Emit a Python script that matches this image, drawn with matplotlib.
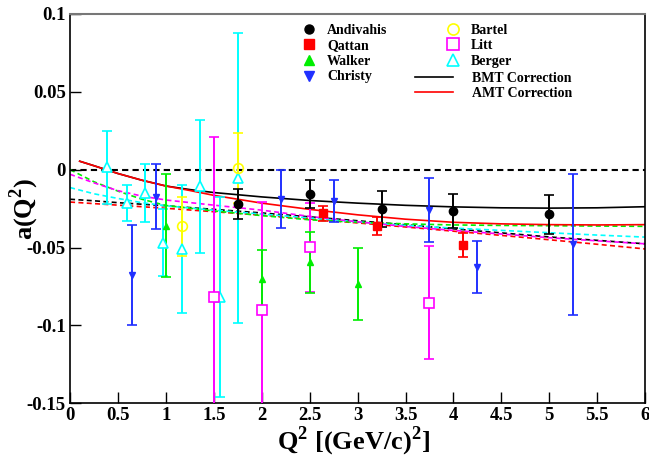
import matplotlib
matplotlib.use("Agg")
import matplotlib.pyplot as plt
from matplotlib.lines import Line2D
from matplotlib.ticker import FuncFormatter

plt.rcParams['font.family'] = ['Liberation Serif', 'DejaVu Serif']
plt.rcParams['font.weight'] = 'bold'
plt.rcParams['mathtext.fontset'] = 'custom'
plt.rcParams['mathtext.rm'] = 'Liberation Serif:bold'
plt.rcParams['mathtext.bf'] = 'Liberation Serif:bold'

# ---- data ----
andivahis_q2 = [1.75, 2.5, 3.25, 4.0, 5.0]
andivahis_a = [-0.022, -0.0158, -0.0253, -0.0266, -0.0286]
andivahis_e = [0.0095, 0.009, 0.0117, 0.011, 0.0124]

qattan_q2 = [2.64, 3.2, 4.1]
qattan_a = [-0.0281, -0.0364, -0.0483]
qattan_e = [0.0046, 0.0058, 0.0078]

walker_q2 = [1.0, 2.0, 2.5, 3.0]
walker_a = [-0.0359, -0.0703, -0.0595, -0.0732]
walker_e = [0.033, 0.019, 0.0195, 0.0232]

christy_q2 = [0.65, 0.9, 2.2, 2.75, 3.75, 4.25, 5.25]
christy_a = [-0.0675, -0.0173, -0.019, -0.0201, -0.026, -0.0623, -0.048]
christy_e = [0.032, 0.021, 0.0187, 0.0134, 0.0205, 0.0166, 0.0455]

bartel_q2 = [1.17, 1.75]
bartel_a = [-0.0364, 0.0012]
bartel_e = [0.019, 0.0225]

litt_q2 = [1.5, 2.0, 2.5, 3.75]
litt_a = [-0.0818, -0.090, -0.0498, -0.0853]
litt_e = [0.103, 0.069, 0.0287, 0.0365]

berger_q2 = [0.39, 0.59, 0.78, 0.97, 1.17, 1.36, 1.56, 1.75]
berger_a = [0.0015, -0.0216, -0.0151, -0.0468, -0.0509, -0.0108, -0.0818, -0.0056]
berger_e = [0.0235, 0.0115, 0.0185, 0.0215, 0.041, 0.0425, 0.064, 0.093]

# correction curves
curve_q2 = [0.1, 0.25, 0.5, 0.75, 1.0, 1.25, 1.5, 2.0, 2.5, 3.0, 3.5, 4.0, 4.5, 5.0, 5.5, 6.0]
bmt_a = [0.0054, 0.0025, -0.0025, -0.0068, -0.0105, -0.0128, -0.0147, -0.0175, -0.0198,
         -0.0215, -0.0229, -0.0239, -0.0245, -0.0247, -0.0245, -0.0238]
amt_a = [0.0054, 0.0025, -0.0025, -0.0068, -0.0105, -0.0134, -0.0165, -0.0215, -0.0255,
         -0.0290, -0.0318, -0.0338, -0.0348, -0.0353, -0.0355, -0.0353]

fit_q2 = [0.0, 0.25, 0.5, 0.75, 1.0, 1.5, 2.0, 2.5, 3.0, 3.5, 4.0, 4.5, 5.0, 5.5, 6.0]
fit_green = [0.0, -0.0078, -0.0138, -0.019, -0.023, -0.0265, -0.0295, -0.0322, -0.0338,
             -0.0348, -0.0355, -0.0358, -0.036, -0.0362, -0.0364]
fit_magenta = [-0.003, -0.0085, -0.0135, -0.017, -0.0195, -0.0228, -0.026, -0.030, -0.0335,
               -0.0365, -0.039, -0.0413, -0.0437, -0.0457, -0.0476]
fit_cyan = [-0.0115, -0.0155, -0.0185, -0.0212, -0.0232, -0.026, -0.0285, -0.031, -0.0335,
            -0.0358, -0.0375, -0.039, -0.0405, -0.042, -0.0433]
fit_black = [-0.019, -0.020, -0.0212, -0.0222, -0.0232, -0.0255, -0.0278, -0.0303, -0.0328,
             -0.0354, -0.038, -0.0406, -0.0432, -0.0454, -0.0476]
fit_red = [-0.0208, -0.0218, -0.0228, -0.0238, -0.0248, -0.027, -0.0292, -0.0317, -0.0342,
           -0.0368, -0.0395, -0.0422, -0.045, -0.0479, -0.0509]

zero_q2 = [0.0, 6.0]
zero_a = [0.0, 0.0]

xticks = [0, 0.5, 1, 1.5, 2, 2.5, 3, 3.5, 4, 4.5, 5, 5.5, 6]
yticks = [-0.15, -0.1, -0.05, 0, 0.05, 0.1]

# ---- plot ----
W, H = 649, 462
fig = plt.figure(figsize=(W / 100, H / 100), dpi=100)
ax = fig.add_axes([0.108, 0.127, 0.886, 0.843])

dash = (0, (3, 2))
ax.plot(zero_q2, zero_a, color='black', lw=1.5, ls=dash, zorder=1)
ax.plot(fit_q2, fit_black, color='black', lw=1.2, ls=dash, zorder=1)
ax.plot(fit_q2, fit_red, color='red', lw=1.2, ls=dash, zorder=1)
ax.plot(fit_q2, fit_cyan, color='cyan', lw=1.2, ls=dash, zorder=1)
ax.plot(fit_q2, fit_green, color='#00ee00', lw=1.2, ls=dash, zorder=1)
ax.plot(fit_q2, fit_magenta, color='magenta', lw=1.2, ls=dash, zorder=1)

ax.plot(curve_q2, bmt_a, color='black', lw=1.2, zorder=2)
ax.plot(curve_q2, amt_a, color='red', lw=1.2, zorder=2)

ekw = dict(capsize=3.5, elinewidth=1.4, capthick=1.2, ls='none', zorder=3)
ax.errorbar(berger_q2, berger_a, yerr=berger_e, color='cyan', marker='^', ms=7,
            mfc='white', mec='cyan', mew=1.2, **ekw)
ax.errorbar(litt_q2, litt_a, yerr=litt_e, color='magenta', marker='s', ms=7,
            mfc='white', mec='magenta', mew=1.2, **ekw)
ax.errorbar(bartel_q2, bartel_a, yerr=bartel_e, color='yellow', marker='o', ms=7,
            mfc='none', mec='yellow', mew=1.2, **ekw)
ax.errorbar(walker_q2, walker_a, yerr=walker_e, color='#00ee00', marker='^', ms=5, **ekw)
ax.errorbar(christy_q2, christy_a, yerr=christy_e, color='#2030ff', marker='v', ms=5, **ekw)
ax.errorbar(qattan_q2, qattan_a, yerr=qattan_e, color='red', marker='s', ms=6, **ekw)
ax.errorbar(andivahis_q2, andivahis_a, yerr=andivahis_e, color='black', marker='o', ms=6, **ekw)

ax.set_xlim(0, 6)
ax.set_ylim(-0.15, 0.1)
ax.set_xticks(xticks)
ax.set_yticks(yticks)
ax.xaxis.set_major_formatter(FuncFormatter(lambda v, p: f"{v:g}"))
ax.yaxis.set_major_formatter(FuncFormatter(lambda v, p: f"{v:g}"))
ax.tick_params(direction='in', length=8, width=1, labelsize=13.5, top=False, right=False, pad=3)
for lab in ax.get_xticklabels() + ax.get_yticklabels():
    lab.set_fontweight('bold')
for s in ['left', 'bottom', 'right']:
    ax.spines[s].set_linewidth(1.2)
ax.spines['top'].set_color('#777777')
ax.spines['top'].set_linewidth(1.5)

fig.text(354 / W, 1 - 441 / H, r'Q$^{\mathbf{2}}$ [(GeV/c)$^{\mathbf{2}}$]', fontsize=19,
         fontweight='bold', ha='center', va='center')
fig.text(24 / W, 1 - 209 / H, r'a(Q$^{\mathbf{2}}$)', fontsize=19, fontweight='bold',
         ha='center', va='center', rotation=90)

lprop = {'weight': 'bold', 'size': 10}
common = dict(frameon=False, loc='upper left', bbox_transform=fig.transFigure,
              borderpad=0, borderaxespad=0, labelspacing=0.19, prop=lprop)

h1 = [Line2D([], [], color='black', marker='o', ls='none', ms=6.5),
      Line2D([], [], color='red', marker='s', ls='none', ms=6.5),
      Line2D([], [], color='#00ee00', marker='^', ls='none', ms=7),
      Line2D([], [], color='#2030ff', marker='v', ls='none', ms=7)]
l1 = ['Andivahis', 'Qattan', 'Walker', 'Christy']
h2 = [Line2D([], [], color='yellow', marker='o', mfc='none', ls='none', ms=8, mew=1.2),
      Line2D([], [], color='magenta', marker='s', mfc='none', ls='none', ms=8, mew=1.2),
      Line2D([], [], color='cyan', marker='^', mfc='none', ls='none', ms=8, mew=1.2)]
l2 = ['Bartel', 'Litt', 'Berger']
h3 = [Line2D([], [], color='black', lw=1.2), Line2D([], [], color='red', lw=1.2)]
l3 = ['BMT Correction', 'AMT Correction']

leg1 = ax.legend(h1, l1, bbox_to_anchor=(300.7 / W, 1 - 23.5 / H), handlelength=1.2,
                 handletextpad=0.7, **common)
ax.add_artist(leg1)
leg2 = ax.legend(h2, l2, bbox_to_anchor=(444.7 / W, 1 - 23.5 / H), handlelength=1.2,
                 handletextpad=0.7, **common)
ax.add_artist(leg2)
leg3 = ax.legend(h3, l3, bbox_to_anchor=(415 / W, 1 - 71.5 / H), handlelength=2.73,
                 handletextpad=1.37, **common)

fig.savefig('out.png', dpi=100)
